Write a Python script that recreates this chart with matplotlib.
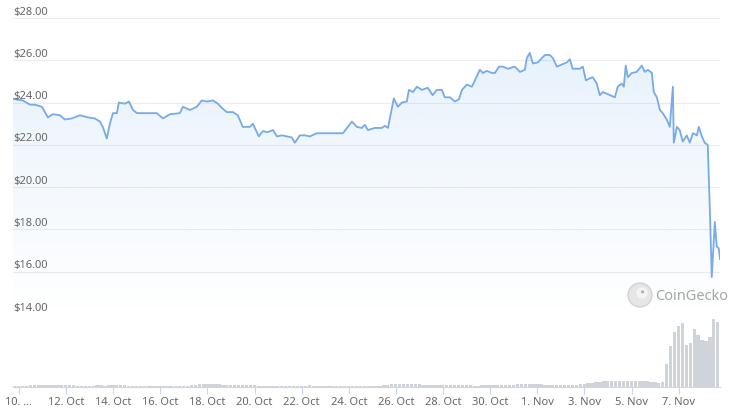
import matplotlib
matplotlib.use("Agg")
import matplotlib.pyplot as plt
import matplotlib.dates as mdates
from matplotlib.patches import PathPatch, Circle
import numpy as np
import pandas as pd

plt.rcParams['font.family'] = ['Noto Sans', 'DejaVu Sans']

# price: days since 10 Oct 2022, USD
price_day = [
    -0.25, 0.17, 0.47, 0.68, 0.98, 1.23, 1.44, 1.74, 1.95, 2.25, 2.59, 2.93,
    3.22, 3.44, 3.56, 3.73, 3.86, 3.99, 4.16, 4.24, 4.50, 4.67, 4.84, 5.01,
    5.26, 5.56, 5.85, 6.11, 6.41, 6.83, 6.96, 7.26, 7.55, 7.76, 7.98, 8.23,
    8.44, 8.61, 8.82, 9.08, 9.29, 9.50, 9.80, 9.93, 10.18, 10.35, 10.56, 10.78,
    10.95, 11.16, 11.37, 11.58, 11.71, 11.92, 12.13, 12.35, 12.64, 12.90, 13.19, 13.49,
    13.75, 13.96, 14.13, 14.34, 14.55, 14.68, 14.81, 15.10, 15.40, 15.53, 15.66, 15.83,
    15.91, 16.08, 16.25, 16.46, 16.55, 16.72, 16.89, 17.10, 17.35, 17.56, 17.73, 17.95,
    18.07, 18.29, 18.50, 18.67, 18.80, 19.01, 19.22, 19.35, 19.56, 19.69, 19.86, 20.07,
    20.20, 20.37, 20.53, 20.75, 21.04, 21.26, 21.47, 21.55, 21.68, 21.81, 22.02, 22.19,
    22.32, 22.53, 22.66, 22.83, 23.04, 23.25, 23.38, 23.50, 23.80, 23.93, 24.06, 24.23,
    24.35, 24.52, 24.65, 24.78, 25.08, 25.29, 25.41, 25.58, 25.67, 25.75, 25.84, 26.01,
    26.22, 26.43, 26.56, 26.69, 26.86, 26.94, 27.07, 27.20, 27.32, 27.49, 27.62, 27.75,
    27.79, 27.92, 28.04, 28.17, 28.34, 28.47, 28.60, 28.77, 28.85, 28.98, 29.10, 29.23,
    29.32, 29.40, 29.53, 29.61, 29.70, 29.75,
]
price = [
    24.17, 24.10, 23.90, 23.90, 23.80, 23.30, 23.45, 23.40, 23.20, 23.25, 23.40, 23.30,
    23.25, 23.10, 22.85, 22.30, 23.00, 23.50, 23.50, 24.00, 23.95, 24.05, 23.65, 23.50,
    23.50, 23.50, 23.50, 23.25, 23.45, 23.50, 23.80, 23.65, 23.80, 24.10, 24.05, 24.10,
    23.95, 23.75, 23.55, 23.55, 23.40, 22.85, 22.85, 23.00, 22.40, 22.65, 22.60, 22.70,
    22.40, 22.45, 22.40, 22.35, 22.10, 22.45, 22.45, 22.40, 22.55, 22.55, 22.55, 22.55,
    22.55, 22.85, 23.10, 22.85, 22.80, 22.95, 22.70, 22.80, 22.80, 22.90, 22.80, 23.75,
    24.20, 23.80, 24.00, 24.05, 24.60, 24.50, 24.75, 24.60, 24.70, 24.35, 24.60, 24.60,
    24.25, 24.25, 24.05, 24.15, 24.60, 24.85, 24.75, 25.05, 25.55, 25.40, 25.50, 25.40,
    25.40, 25.70, 25.70, 25.60, 25.70, 25.45, 25.55, 26.10, 26.35, 25.85, 25.90, 26.10,
    26.25, 26.25, 26.10, 25.70, 25.80, 25.90, 26.05, 25.60, 25.60, 25.70, 25.05, 25.15,
    25.20, 24.90, 24.35, 24.50, 24.35, 24.25, 24.75, 24.90, 24.75, 25.75, 25.20, 25.40,
    25.45, 25.75, 25.45, 25.55, 25.40, 24.50, 24.25, 23.65, 23.50, 23.20, 22.85, 24.75,
    22.10, 22.85, 22.70, 22.15, 22.45, 22.10, 22.55, 22.45, 22.85, 22.40, 22.10, 22.00,
    18.90, 15.75, 18.35, 17.20, 17.10, 16.60,
]

# volume, relative, 4-hour buckets from 9 Oct 18:00 (one row per day)
volume = [
    1, 1, 1, 1, 1.5, 1.5,
    1.5, 2, 2, 2, 2, 1.5,
    2, 2, 2, 1.5, 1, 1,
    1, 1, 1, 1.5, 1.5, 1,
    1.5, 1.5, 2, 1.5, 1.5, 1,
    1, 1, 1, 1, 1, 1,
    1, 1, 1, 1, 1, 1,
    1, 1, 1, 1.5, 2, 2.5,
    3, 3, 3, 3, 2.5, 2,
    2, 2, 2, 2, 1.5, 1.5,
    1.5, 1.5, 1, 1, 1, 1,
    1, 1, 1, 1, 1, 1,
    1, 1, 1, 1.5, 1, 1,
    1, 1, 1, 1, 1, 1,
    1, 1, 1, 1, 1, 1,
    1, 1, 1, 1, 1.5, 2,
    2.5, 3, 3, 3, 3, 2.5,
    2.5, 2.5, 2, 2, 2, 2,
    1.5, 1.5, 1.5, 1.5, 1.5, 1.5,
    1.5, 1.5, 1.5, 1, 1, 1.5,
    1.5, 1.5, 1.5, 1.5, 1.5, 2,
    2, 2, 2.5, 2.5, 3, 3,
    3, 3, 2.5, 2, 2, 1.5,
    1.5, 1.5, 1.5, 1.5, 1.5, 2,
    3, 3, 4, 4, 5, 5,
    6, 6, 6, 5.5, 6, 6,
    6, 6, 6, 6, 5.5, 6,
    5, 5, 4, 5, 22, 39,
    52, 58, 61, 40, 42, 55,
    50, 45, 44, 48, 65, 62,
]

yticks = [14, 16, 18, 20, 22, 24, 26, 28]

base = pd.Timestamp("2022-10-10")
ptime = base + pd.to_timedelta(price_day, unit="D")
vstart = pd.Timestamp("2022-10-09 18:00")
vtime = vstart + pd.to_timedelta(np.arange(len(volume)) * 4, unit="h")
xmin = mdates.date2num(vstart)
xmax = mdates.date2num(pd.Timestamp("2022-11-08 18:00"))

W, H = 740, 419
fig = plt.figure(figsize=(W / 100, H / 100), dpi=100)
L, R = 13, 720
axp = fig.add_axes([L / W, 1 - 314 / H, (R - L) / W, (314 - 18) / H])
axv = fig.add_axes([L / W, 1 - 387 / H, (R - L) / W, (387 - 314) / H])

line_col = "#76abe8"
grid_col = "#ececec"
lab_col = "#666666"

# price panel
px = mdates.date2num(ptime)
axp.plot(px, price, color=line_col, lw=1.3, zorder=3, solid_joinstyle="round")
coll = axp.fill_between(px, price, 14, facecolor="none", edgecolor="none")
path = coll.get_paths()[0]
patch = PathPatch(path, transform=axp.transData, facecolor="none", edgecolor="none")
axp.add_patch(patch)
grad = np.zeros((256, 2, 4))
grad[:, :, 0] = 124 / 255
grad[:, :, 1] = 181 / 255
grad[:, :, 2] = 236 / 255
grad[:, :, 3] = np.linspace(0.2, 0.0, 256)[:, None]
img = axp.imshow(grad, extent=[xmin, xmax, 14, 28], origin="upper", aspect="auto", zorder=1)
img.set_clip_path(patch)

axp.set_xlim(xmin, xmax)
axp.set_ylim(14, 28)
for v in yticks:
    axp.axhline(v, color=grid_col, lw=0.8, zorder=0)
    axp.text(0, v + 0.02, f"${v:.2f}", transform=axp.get_yaxis_transform(),
             ha="left", va="bottom", fontsize=8, color=lab_col, zorder=4)
axp.set_xticks([])
axp.set_yticks([])
for s in axp.spines.values():
    s.set_visible(False)
axp.patch.set_alpha(0)

# volume panel
vx = mdates.date2num(vtime)
axv.bar(vx, volume, width=4 / 24 * 0.85, align="edge", color="#cfd3da", edgecolor="none")
axv.set_xlim(xmin, xmax)
axv.set_ylim(0, max(volume) * 1.07)
axv.set_yticks([])
for s in ["top", "left", "right"]:
    axv.spines[s].set_visible(False)
axv.spines["bottom"].set_color("#ccd6eb")
axv.spines["bottom"].set_linewidth(0.8)
axv.patch.set_alpha(0)

ticks = pd.date_range("2022-10-10", "2022-11-07", freq="2D")
labels = [f"{t.day}. {t.strftime('%b')}" for t in ticks]
labels[0] = "10. ..."
axv.set_xticks(mdates.date2num(ticks))
axv.set_xticklabels(labels, fontsize=8, color=lab_col)
axv.tick_params(axis="x", length=5, width=0.8, color="#ccd6eb", pad=2)

# watermark
wm = fig.add_axes([627 / W, 1 - 308 / H, 26 / W, 26 / H])
wm.add_patch(Circle((0.5, 0.5), 0.46, facecolor="#e6e6e6", edgecolor="#d2d2d2", lw=1))
wm.add_patch(Circle((0.58, 0.58), 0.22, facecolor="#f4f4f4", edgecolor="none"))
wm.add_patch(Circle((0.6, 0.62), 0.06, facecolor="#b0b0b0", edgecolor="none"))
wm.set_xlim(0, 1)
wm.set_ylim(0, 1)
wm.axis("off")
fig.text(655 / W, 1 - 296 / H, "CoinGecko", fontsize=10.5, color="#a6a6a6",
         va="center", ha="left")

fig.savefig("out.png", dpi=100)
